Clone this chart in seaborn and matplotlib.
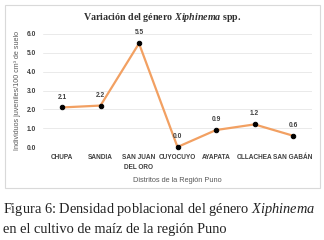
import pandas as pd
import matplotlib.pyplot as plt
import seaborn as sns
from matplotlib.patches import Rectangle

# --- Datos ---
distritos = ["CHUPA", "SANDIA", "SAN JUAN\nDEL ORO", "CUYOCUYO", "AYAPATA", "OLLACHEA", "SAN GABÁN"]
densidad = [2.1, 2.2, 5.5, 0.0, 0.9, 1.2, 0.6]
yticks = [0, 1, 2, 3, 4, 5, 6]

df = pd.DataFrame({"distrito": distritos, "densidad": densidad})

sns.set_style("white")
plt.rcParams["font.family"] = ["Liberation Sans", "DejaVu Sans"]
plt.rcParams["mathtext.fontset"] = "custom"
plt.rcParams["mathtext.it"] = "Liberation Serif:italic"
plt.rcParams["mathtext.bfit"] = "Liberation Serif:italic:bold"
plt.rcParams["mathtext.rm"] = "Liberation Serif"

fig = plt.figure(figsize=(3.24, 2.4), dpi=100)
fig.patch.set_facecolor("white")

# marco del gráfico
fig.patches.append(Rectangle((5 / 324, 1 - 188 / 240), 315 / 324, 183 / 240,
                             transform=fig.transFigure, fill=False,
                             edgecolor="#d9d9d9", linewidth=0.8))

ax = fig.add_axes([42.75 / 324, 1 - 147 / 240, 269.5 / 324, 113 / 240])
df["x"] = range(len(df))
sns.lineplot(data=df, x="x", y="densidad", ax=ax, color="#F2A062", linewidth=1.6,
             marker="o", markersize=3.2, markerfacecolor="black", markeredgecolor="black",
             clip_on=False)

ax.set_xlim(-0.5, len(distritos) - 0.5)
ax.set_ylim(0, 6)
ax.set_yticks(yticks)
ax.set_yticklabels([f"{v:.1f}" for v in yticks], fontsize=4.8, fontweight="bold", color="#404040")
ax.set_xticks(df["x"])
ax.set_xticklabels(distritos, fontsize=4.7, fontweight="bold", color="#404040", linespacing=1.7)
ax.tick_params(axis="both", length=0, pad=5)
ax.grid(axis="y", color="#e6e6e6", linewidth=0.6)
for s in ax.spines.values():
    s.set_visible(False)
ax.set_axisbelow(True)

for i, v in enumerate(densidad):
    ax.annotate(f"{v:.1f}", (i, v), xytext=(0, 5), textcoords="offset points",
                ha="center", va="bottom", fontsize=4.8, fontweight="bold", color="#404040")

ax.set_xlabel("Distritos de la Región Puno", fontsize=5.3, color="#595959", labelpad=4)
ax.set_ylabel("Individuos juveniles/100 cm³ de suelo", fontsize=5.1, color="#595959", labelpad=4)

fig.text(0.5, 1 - 18 / 240, r"Variación del género $\mathbfit{Xiphinema}$ spp.",
         ha="center", va="center", fontsize=7.2, fontweight="bold",
         family="Liberation Serif", color="#303030")

# --- Leyenda de figura ---
fig.text(3 / 324, 1 - 210 / 240, r"Figura 6: Densidad poblacional del género $\mathit{Xiphinema}$",
         ha="left", va="center", fontsize=10.4, family="Liberation Serif", color="#222222")
fig.text(3 / 324, 1 - 230 / 240, "en el cultivo de maíz de la región Puno",
         ha="left", va="center", fontsize=10.4, family="Liberation Serif", color="#222222")

plt.savefig("out.png", dpi=100)
